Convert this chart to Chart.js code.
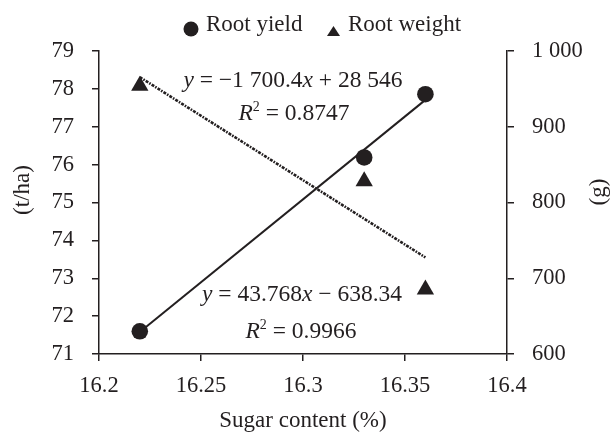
<!DOCTYPE html>
<html>
<head>
<meta charset="utf-8">
<script src="https://cdn.jsdelivr.net/npm/chart.js@4/dist/chart.umd.min.js"></script>
<style>
  html, body { margin: 0; padding: 0; background: #fff; }
  #wrap { width: 613px; height: 436px; }
</style>
</head>
<body>
<div id="wrap"><canvas id="chart" width="613" height="436"></canvas></div>
<script>
// values
const sugarContent = [16.22, 16.33, 16.36];
const rootYield = [71.6, 76.19, 77.86];      // t/ha, left axis
const rootWeight = [954, 828, 685];           // g, right axis

// trendline end points (x = 16.22 and 16.36)
const trendX = [16.22, 16.36];
const yieldTrend = [71.58, 77.71];
const weightTrend = [965.5, 727.5];

const xTicks = [16.2, 16.25, 16.3, 16.35, 16.4];
const xTickLabels = ['16.2', '16.25', '16.3', '16.35', '16.4'];
const leftTicks = [71, 72, 73, 74, 75, 76, 77, 78, 79];
const rightTicks = [600, 700, 800, 900, 1000];
const rightTickLabels = ['600', '700', '800', '900', '1 000'];

const SERIF = '"Liberation Serif", "Times New Roman", serif';
const INK = '#231f20';

const toPoints = (xs, ys) => xs.map((x, i) => ({ x: x, y: ys[i] }));

// titles, legend and the trendline equations
const annotations = {
  id: 'annotations',
  afterDraw(chart) {
    const ctx = chart.ctx;
    ctx.save();
    ctx.fillStyle = INK;
    ctx.textBaseline = 'alphabetic';

    // pieces of text: [text, italic, superscript]
    const drawParts = (parts, cx, baseline) => {
      const fontFor = (p) => (p[1] ? 'italic ' : '') + (p[2] ? '14px ' : '23.5px ') + SERIF;
      let total = 0;
      parts.forEach((p) => { ctx.font = fontFor(p); total += ctx.measureText(p[0]).width; });
      let x = cx - total / 2;
      ctx.textAlign = 'left';
      parts.forEach((p) => {
        ctx.font = fontFor(p);
        ctx.fillText(p[0], x, p[2] ? baseline - 9 : baseline);
        x += ctx.measureText(p[0]).width;
      });
    };

    drawParts([['y', true], [' = \u22121 700.4', false], ['x', true], [' + 28 546', false]], 293, 87);
    drawParts([['R', true], ['2', false, true], [' = 0.8747', false]], 294, 120);
    drawParts([['y', true], [' = 43.768', false], ['x', true], [' \u2212 638.34', false]], 302, 301);
    drawParts([['R', true], ['2', false, true], [' = 0.9966', false]], 301, 338);

    // axis titles
    ctx.font = '23px ' + SERIF;
    ctx.textAlign = 'center';
    ctx.textBaseline = 'middle';
    ctx.fillText('Sugar content (%)', 303, 421);
    ctx.save();
    ctx.translate(23, 190);
    ctx.rotate(-Math.PI / 2);
    ctx.fillText('(t/ha)', 0, 0);
    ctx.restore();
    ctx.save();
    ctx.translate(599, 192);
    ctx.rotate(-Math.PI / 2);
    ctx.fillText('(g)', 0, 0);
    ctx.restore();

    // legend
    ctx.beginPath();
    ctx.arc(191, 29, 7.5, 0, Math.PI * 2);
    ctx.fill();
    ctx.beginPath();
    ctx.moveTo(333.5, 26);
    ctx.lineTo(340, 36);
    ctx.lineTo(327, 36);
    ctx.closePath();
    ctx.fill();
    ctx.textAlign = 'left';
    ctx.textBaseline = 'alphabetic';
    ctx.fillText('Root yield', 206, 31);
    ctx.fillText('Root weight', 348, 31);
    ctx.restore();
  }
};

const axisGrid = {
  display: true,
  drawOnChartArea: false,
  drawTicks: true,
  tickLength: 7,
  tickColor: INK,
  tickWidth: 1.5,
  color: INK,
  lineWidth: 1.5
};
const axisBorder = { display: true, color: INK, width: 1.5 };
const tickFont = { family: SERIF, size: 22.5 };

new Chart(document.getElementById('chart'), {
  type: 'scatter',
  data: {
    datasets: [
      {
        label: 'Root yield',
        data: toPoints(sugarContent, rootYield),
        yAxisID: 'y',
        pointStyle: 'circle',
        pointRadius: 8.3,
        backgroundColor: INK,
        borderColor: INK,
        borderWidth: 0
      },
      {
        label: 'Root weight',
        data: toPoints(sugarContent, rootWeight),
        yAxisID: 'y2',
        pointStyle: 'triangle',
        pointRadius: 10,
        backgroundColor: INK,
        borderColor: INK,
        borderWidth: 0
      },
      {
        label: 'Yield trend',
        data: toPoints(trendX, yieldTrend),
        yAxisID: 'y',
        showLine: true,
        pointRadius: 0,
        borderColor: INK,
        borderWidth: 2
      },
      {
        label: 'Weight trend',
        data: toPoints(trendX, weightTrend),
        yAxisID: 'y2',
        showLine: true,
        pointRadius: 0,
        borderColor: INK,
        borderWidth: 2.6,
        borderDash: [3, 1.2, 1.6, 1.2]
      }
    ]
  },
  options: {
    responsive: false,
    animation: false,
    events: [],
    layout: { padding: { top: 51, left: 0, right: 0, bottom: 0 } },
    plugins: {
      legend: { display: false },
      tooltip: { enabled: false }
    },
    scales: {
      x: {
        type: 'linear',
        min: 16.2,
        max: 16.4,
        afterBuildTicks: (scale) => { scale.ticks = xTicks.map((v) => ({ value: v })); },
        afterFit: (scale) => { scale.height = 82; },
        grid: axisGrid,
        border: axisBorder,
        ticks: {
          color: INK,
          font: tickFont,
          padding: 12,
          maxRotation: 0,
          callback: (v, i) => xTickLabels[i]
        }
      },
      y: {
        type: 'linear',
        position: 'left',
        min: 71,
        max: 79,
        afterBuildTicks: (scale) => { scale.ticks = leftTicks.map((v) => ({ value: v })); },
        afterFit: (scale) => { scale.width = 99; },
        grid: axisGrid,
        border: axisBorder,
        ticks: {
          color: INK,
          font: tickFont,
          padding: 18,
          callback: (v) => String(v)
        }
      },
      y2: {
        type: 'linear',
        position: 'right',
        min: 600,
        max: 1000,
        afterBuildTicks: (scale) => { scale.ticks = rightTicks.map((v) => ({ value: v })); },
        afterFit: (scale) => { scale.width = 106; },
        grid: axisGrid,
        border: axisBorder,
        ticks: {
          color: INK,
          font: tickFont,
          padding: 18,
          callback: (v, i) => rightTickLabels[i]
        }
      }
    }
  },
  plugins: [annotations]
});
</script>
</body>
</html>
